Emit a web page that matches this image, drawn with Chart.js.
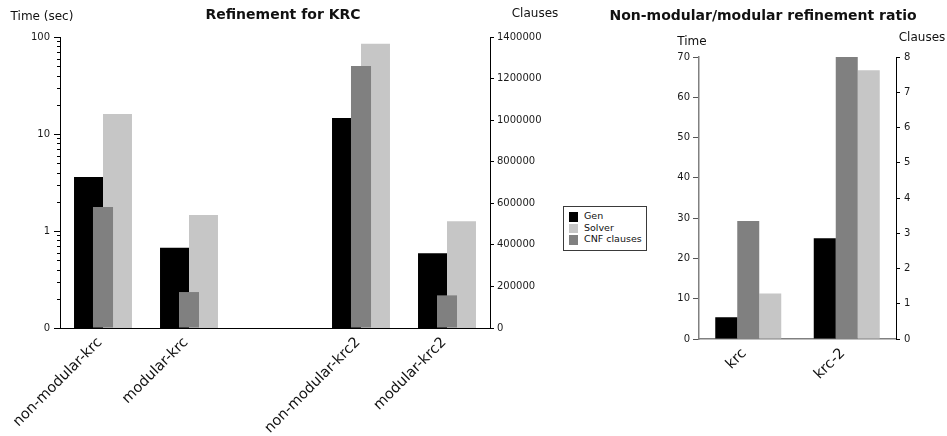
<!DOCTYPE html>
<html>
<head>
<meta charset="utf-8">
<script src="https://cdn.jsdelivr.net/npm/chart.js@4.4.1/dist/chart.umd.min.js"></script>
<style>
  html, body { margin: 0; padding: 0; background: #fff; }
  body { width: 947px; height: 436px; position: relative; overflow: hidden; font-family: "DejaVu Sans", sans-serif; }
  canvas { position: absolute; top: 0; }
  #krcChart { left: 0; }
  #ratioChart { left: 600px; }
  #legend { position: absolute; left: 563px; top: 206px; width: 84px; height: 45px; box-sizing: border-box;
            border: 1px solid #3a3a3a; background: #fff; }
  #legend .item { position: absolute; left: 5px; height: 10px; font-size: 9.5px; line-height: 10px; color: #111; white-space: nowrap; }
  #legend .sw { position: absolute; left: 0; top: 0; width: 9px; height: 9.5px; }
  #legend .tx { position: absolute; left: 15px; top: -1px; }
</style>
</head>
<body>
<canvas id="krcChart" width="567" height="436"></canvas>
<canvas id="ratioChart" width="347" height="436"></canvas>
<div id="legend"></div>
<script>
// ---- Refinement runs for KRC (time on log axis, clause count on linear axis) ----
const krcCategories = ['non-modular-krc', 'modular-krc', '', 'non-modular-krc2', 'modular-krc2'];
const genTime      = [3.6, 0.67, null, 14.6, 0.59];
const solverTime   = [16.1, 1.46, null, 85, 1.26];
const cnfClauses   = [582000, 173000, null, 1260000, 157000];

const timeTicks      = [0.1, 1, 10, 100];
const timeTickLabels = ['0', '1', '10', '100'];
const timeMinorTicks = [0.2, 0.3, 0.4, 0.5, 0.6, 0.7, 0.8, 0.9, 2, 3, 4, 5, 6, 7, 8, 9, 20, 30, 40, 50, 60, 70, 80, 90];
const clauseTicks    = [0, 200000, 400000, 600000, 800000, 1000000, 1200000, 1400000];

// ---- Non-modular / modular ratios ----
const ratioCategories = ['krc', 'krc-2'];
const genRatio    = [5.4, 25.0];
const cnfRatio    = [3.35, 8.0];
const solverRatio = [11.3, 66.7];

const ratioTimeTicks   = [0, 10, 20, 30, 40, 50, 60, 70];
const ratioClauseTicks = [0, 1, 2, 3, 4, 5, 6, 7, 8];

const seriesNames  = ['Gen', 'Solver', 'CNF clauses'];
const seriesColors = { Gen: '#000000', Solver: '#c6c6c6', 'CNF clauses': '#808080' };

Chart.defaults.font.family = '"DejaVu Sans", sans-serif';
Chart.defaults.color = '#1a1a1a';

// Free-standing text (titles, horizontal axis captions)
const captions = {
  id: 'captions',
  afterDraw(chart, args, opts) {
    const ctx = chart.ctx;
    ctx.save();
    ctx.textBaseline = 'alphabetic';
    for (const t of opts.items || []) {
      ctx.font = t.font;
      ctx.fillStyle = t.color || '#111';
      ctx.textAlign = t.align || 'center';
      ctx.fillText(t.text, t.x, t.y);
    }
    ctx.restore();
  }
};

// Short minor tick marks on a logarithmic axis
const minorTicks = {
  id: 'minorTicks',
  afterDraw(chart, args, opts) {
    if (!opts.axis) return;
    const scale = chart.scales[opts.axis];
    const ctx = chart.ctx;
    ctx.save();
    ctx.strokeStyle = opts.color || '#000';
    ctx.lineWidth = 1;
    for (const v of opts.values) {
      const y = Math.round(scale.getPixelForValue(v)) + 0.5;
      ctx.beginPath();
      ctx.moveTo(scale.right - opts.length, y);
      ctx.lineTo(scale.right, y);
      ctx.stroke();
    }
    ctx.restore();
  }
};

const tickFont = { size: 10 };
const categoryFont = { size: 14.5 };

new Chart(document.getElementById('krcChart'), {
  type: 'bar',
  plugins: [captions, minorTicks],
  data: {
    labels: krcCategories,
    datasets: [
      { label: 'Gen', data: genTime, backgroundColor: seriesColors.Gen, yAxisID: 'y', order: 1,
        barPercentage: 1, categoryPercentage: 0.674 },
      { label: 'Solver', data: solverTime, backgroundColor: seriesColors.Solver, yAxisID: 'y', order: 1,
        barPercentage: 1, categoryPercentage: 0.674 },
      { label: 'CNF clauses', data: cnfClauses, backgroundColor: seriesColors['CNF clauses'], yAxisID: 'y2', order: 0,
        grouped: false, barPercentage: 0.233, categoryPercentage: 1 }
    ]
  },
  options: {
    responsive: false,
    animation: false,
    layout: { padding: { top: 37, left: 0, right: 0, bottom: 0 } },
    plugins: {
      legend: { display: false },
      tooltip: { enabled: false },
      captions: {
        items: [
          { text: 'Refinement for KRC', x: 283, y: 19, font: 'bold 14px "DejaVu Sans"' },
          { text: 'Time (sec)', x: 42, y: 20, font: '12px "DejaVu Sans"' },
          { text: 'Clauses', x: 535, y: 16.5, font: '12px "DejaVu Sans"' }
        ]
      },
      minorTicks: { axis: 'y', values: timeMinorTicks, length: 3, color: '#000' }
    },
    scales: {
      x: {
        grid: { display: false, drawTicks: false },
        border: { display: true, color: '#000', width: 1 },
        ticks: { minRotation: 45, maxRotation: 45, autoSkip: false, padding: 6, labelOffset: -3,
                 font: categoryFont, color: '#111' },
        afterFit: s => { s.height = 108; }
      },
      y: {
        type: 'logarithmic',
        position: 'left',
        min: timeTicks[0],
        max: timeTicks[timeTicks.length - 1],
        afterBuildTicks: s => { s.ticks = timeTicks.map(v => ({ value: v, major: true })); },
        ticks: { autoSkip: false, padding: 4, font: tickFont, callback: (v, i) => timeTickLabels[i] },
        grid: { drawOnChartArea: false, tickLength: 6, color: '#000', tickColor: '#000' },
        border: { display: true, color: '#000', width: 1 },
        afterFit: s => { s.width = 60; }
      },
      y2: {
        type: 'linear',
        position: 'right',
        min: clauseTicks[0],
        max: clauseTicks[clauseTicks.length - 1],
        afterBuildTicks: s => { s.ticks = clauseTicks.map(v => ({ value: v })); },
        ticks: { autoSkip: false, padding: 3, font: tickFont, callback: v => String(v) },
        grid: { drawOnChartArea: false, tickLength: 4, color: '#000', tickColor: '#000' },
        border: { display: true, color: '#000', width: 1 },
        afterFit: s => { s.width = 77; }
      }
    }
  }
});

new Chart(document.getElementById('ratioChart'), {
  type: 'bar',
  plugins: [captions],
  data: {
    labels: ratioCategories,
    datasets: [
      { label: 'Gen', data: genRatio, backgroundColor: seriesColors.Gen, yAxisID: 'y',
        barPercentage: 1, categoryPercentage: 0.67 },
      { label: 'CNF clauses', data: cnfRatio, backgroundColor: seriesColors['CNF clauses'], yAxisID: 'y2',
        barPercentage: 1, categoryPercentage: 0.67 },
      { label: 'Solver', data: solverRatio, backgroundColor: seriesColors.Solver, yAxisID: 'y',
        barPercentage: 1, categoryPercentage: 0.67 }
    ]
  },
  options: {
    responsive: false,
    animation: false,
    layout: { padding: { top: 57, left: 0, right: 0, bottom: 0 } },
    plugins: {
      legend: { display: false },
      tooltip: { enabled: false },
      captions: {
        items: [
          { text: 'Non-modular/modular refinement ratio', x: 163, y: 19.5, font: 'bold 14px "DejaVu Sans"' },
          { text: 'Time', x: 92, y: 44.5, font: '12px "DejaVu Sans"' },
          { text: 'Clauses', x: 322, y: 40.5, font: '12px "DejaVu Sans"' }
        ]
      }
    },
    scales: {
      x: {
        grid: { display: false, drawTicks: false },
        border: { display: true, color: '#808080', width: 1.5 },
        ticks: { minRotation: 45, maxRotation: 45, autoSkip: false, padding: 6, labelOffset: -4,
                 font: categoryFont, color: '#111' },
        afterFit: s => { s.height = 97; }
      },
      y: {
        type: 'linear',
        position: 'left',
        min: ratioTimeTicks[0],
        max: ratioTimeTicks[ratioTimeTicks.length - 1],
        afterBuildTicks: s => { s.ticks = ratioTimeTicks.map(v => ({ value: v })); },
        ticks: { autoSkip: false, padding: 3, font: tickFont },
        grid: { drawOnChartArea: false, tickLength: 6, color: '#808080', tickColor: '#555' },
        border: { display: true, color: '#808080', width: 1.5 },
        afterFit: s => { s.width = 99; }
      },
      y2: {
        type: 'linear',
        position: 'right',
        min: ratioClauseTicks[0],
        max: ratioClauseTicks[ratioClauseTicks.length - 1],
        afterBuildTicks: s => { s.ticks = ratioClauseTicks.map(v => ({ value: v })); },
        ticks: { autoSkip: false, padding: 4, font: tickFont },
        grid: { drawOnChartArea: false, tickLength: 4, color: '#000', tickColor: '#000' },
        border: { display: true, color: '#000', width: 1 },
        afterFit: s => { s.width = 51; }
      }
    }
  }
});

// Shared legend for both panels
const legend = document.getElementById('legend');
seriesNames.forEach((name, i) => {
  const item = document.createElement('div');
  item.className = 'item';
  item.style.top = (5 + i * 11.5) + 'px';
  const sw = document.createElement('span');
  sw.className = 'sw';
  sw.style.background = seriesColors[name];
  const tx = document.createElement('span');
  tx.className = 'tx';
  tx.textContent = name;
  item.appendChild(sw);
  item.appendChild(tx);
  legend.appendChild(item);
});
</script>
</body>
</html>
